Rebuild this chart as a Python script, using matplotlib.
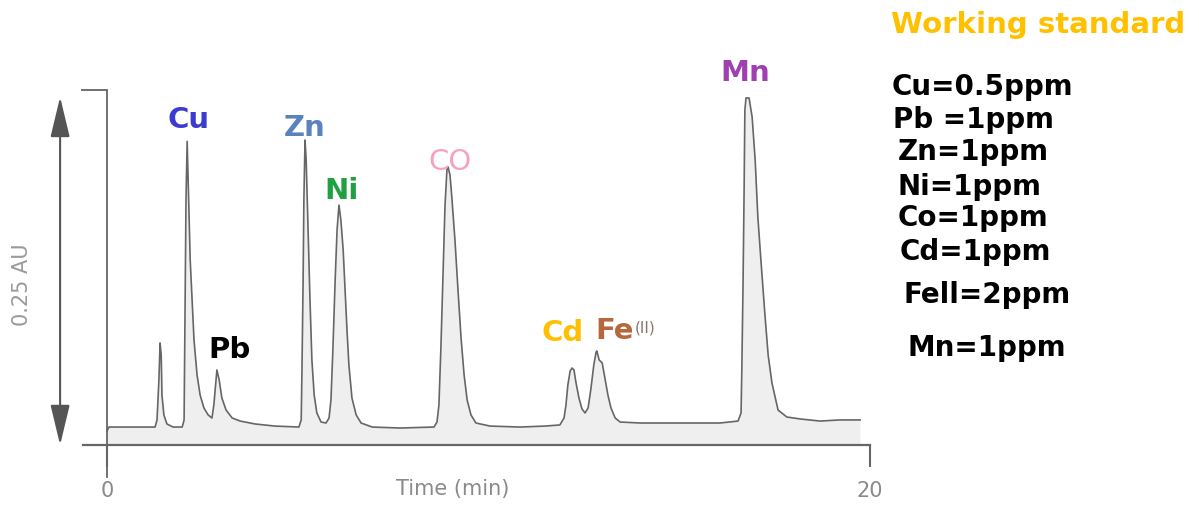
import matplotlib
matplotlib.use("Agg")
import matplotlib.pyplot as plt

# chromatogram trace (time in min, absorbance in AU)
time_min = [0.00, 0.05, 0.60, 1.26, 1.31, 1.36, 1.39, 1.42, 1.44, 1.49, 1.57, 1.73,
            1.97, 2.02, 2.04, 2.07, 2.10, 2.12, 2.15, 2.18, 2.23, 2.28, 2.36, 2.44,
            2.54, 2.65, 2.75, 2.80, 2.86, 2.88, 2.94, 3.01, 3.12, 3.28, 3.49, 3.88,
            4.40, 5.03, 5.09, 5.11, 5.14, 5.16, 5.19, 5.22, 5.27, 5.32, 5.37, 5.43,
            5.50, 5.61, 5.74, 5.82, 5.87, 5.92, 5.98, 6.03, 6.08, 6.13, 6.19, 6.24,
            6.29, 6.34, 6.42, 6.53, 6.66, 6.95, 7.68, 8.57, 8.65, 8.70, 8.75, 8.81,
            8.86, 8.91, 8.94, 8.99, 9.04, 9.12, 9.20, 9.28, 9.36, 9.44, 9.54, 9.67,
            10.04, 10.83, 11.48, 11.87, 11.98, 12.03, 12.08, 12.14, 12.19, 12.24, 12.29,
            12.37, 12.45, 12.53, 12.61, 12.68, 12.76, 12.82, 12.84, 12.90, 12.98, 13.05,
            13.13, 13.21, 13.32, 13.45, 13.97, 15.02, 16.07, 16.54, 16.62, 16.64, 16.67,
            16.70, 16.72, 16.75, 16.83, 16.91, 16.99, 17.06, 17.14, 17.25, 17.33, 17.43,
            17.59, 17.82, 18.17, 18.69, 19.21, 19.74]
absorbance = [0.0101, 0.0129, 0.0129, 0.0129, 0.0180, 0.0467, 0.0733, 0.0647, 0.0359, 0.0216, 0.0151, 0.0129,
              0.0129, 0.0180, 0.0826, 0.1760, 0.2181, 0.1976, 0.1652, 0.1329, 0.1042, 0.0754, 0.0503, 0.0359,
              0.0266, 0.0216, 0.0194, 0.0287, 0.0481, 0.0539, 0.0467, 0.0338, 0.0251, 0.0194, 0.0172, 0.0151,
              0.0136, 0.0129, 0.0180, 0.0539, 0.1185, 0.1760, 0.2191, 0.2047, 0.1545, 0.1042, 0.0611, 0.0359,
              0.0230, 0.0165, 0.0158, 0.0194, 0.0323, 0.0682, 0.1185, 0.1545, 0.1724, 0.1616, 0.1401, 0.1113,
              0.0826, 0.0575, 0.0338, 0.0216, 0.0158, 0.0129, 0.0122, 0.0129, 0.0165, 0.0287, 0.0682, 0.1257,
              0.1724, 0.1976, 0.1997, 0.1940, 0.1774, 0.1473, 0.1113, 0.0769, 0.0503, 0.0323, 0.0216, 0.0158,
              0.0136, 0.0129, 0.0136, 0.0144, 0.0194, 0.0287, 0.0431, 0.0532, 0.0553, 0.0539, 0.0452,
              0.0338, 0.0259, 0.0230, 0.0266, 0.0395, 0.0575, 0.0668, 0.0675, 0.0611, 0.0589, 0.0481,
              0.0359, 0.0266, 0.0194, 0.0165, 0.0158, 0.0158, 0.0158, 0.0172, 0.0230, 0.0539, 0.1113,
              0.1832, 0.2407, 0.2493, 0.2493, 0.2356, 0.2047, 0.1638, 0.1329, 0.0920, 0.0647, 0.0445,
              0.0251, 0.0201, 0.0187, 0.0172, 0.0180, 0.0180]

# peak labels
peak_names = ["Cu", "Pb", "Zn", "Ni", "CO", "Cd", "Fe", "Mn"]
peak_rt = [2.10, 2.88, 5.19, 6.08, 8.94, 12.19, 12.84, 16.79]
peak_height = [0.218, 0.054, 0.219, 0.172, 0.200, 0.055, 0.067, 0.249]
peak_colors = ["#3b3bd0", "#000000", "#5a82bd", "#20a040", "#f7a1bf", "#ffbe00", "#b5683c", "#a040b0"]
label_offsets = [(0.7, 15.8), (9.4, 14.4), (0, 8.6), (2.2, 10.8), (1.4, 3.6),
                 (-6.5, 25.2), (-1.4, 15.1), (-1.4, 18.0)]

standard_title = "Working standard"
standards = ["Cu=0.5ppm", "Pb =1ppm", "Zn=1ppm", "Ni=1ppm", "Co=1ppm",
             "Cd=1ppm", "Fell=2ppm", "Mn=1ppm"]
standard_x = [892, 893, 898, 898, 898, 900, 903, 907]
standard_y = [87, 120, 152, 187, 218, 252, 295, 348]

W, H = 1199, 519
fig = plt.figure(figsize=(W / 100, H / 100), dpi=100)
ax = fig.add_axes([83 / W, 1 - 445 / H, (870 - 83) / W, 355 / H])

grey = "#666666"
ax.fill_between(time_min, absorbance, 0, color="#efefef", lw=0)
ax.plot(time_min, absorbance, color=grey, lw=1.2)

ax.set_xlim(-0.63, 20)
ax.set_ylim(0, 0.255)
for s in ["top", "right"]:
    ax.spines[s].set_visible(False)
ax.spines["bottom"].set_color(grey)
ax.spines["bottom"].set_linewidth(1.6)
ax.spines["left"].set_position(("data", 0))
ax.spines["left"].set_color(grey)
ax.spines["left"].set_linewidth(1.3)
ax.spines["left"].set_bounds(-0.023, 0.255)

ax.set_xticks([0, 20])
ax.set_xticklabels(["0", "20"])
ax.tick_params(axis="x", length=16, width=1.5, color=grey, pad=10,
               labelsize=15, labelcolor="#8a8a8a")
ax.set_yticks([0.255])
ax.set_yticklabels([""])
ax.tick_params(axis="y", length=19, width=1.3, color=grey)
ax.set_xlabel("Time (min)", fontsize=15, color="#8a8a8a")
ax.xaxis.set_label_coords(0.47, -0.095)

# 0.25 AU scale arrow
ax.annotate("", xy=(-1.23, 0.25), xytext=(-1.23, 0.0), annotation_clip=False,
            arrowprops=dict(arrowstyle="<|-|>,head_length=2.5,head_width=0.6",
                            color="#555555", lw=1.5, shrinkA=0, shrinkB=0))
fig.text(22 / W, 1 - 285 / H, "0.25 AU", rotation=90, ha="center", va="center",
         fontsize=15, color="#9a9a9a")

for name, rt, h, c, off in zip(peak_names, peak_rt, peak_height, peak_colors, label_offsets):
    ha = "left" if name == "Fe" else "center"
    weight = "normal" if name == "CO" else "bold"
    ax.annotate(name, xy=(rt, h), xytext=off, textcoords="offset points",
                ha=ha, va="center", fontsize=21, fontweight=weight, color=c,
                annotation_clip=False)
ax.annotate("(II)", xy=(peak_rt[6], peak_height[6]), xytext=(27.5, 17.3),
            textcoords="offset points", ha="left", va="center", fontsize=11,
            color="#8a7468", annotation_clip=False)

fig.text(1038 / W, 1 - 25 / H, standard_title, ha="center", va="center",
         fontsize=21, fontweight="bold", color="#ffc000")
for txt, x, y in zip(standards, standard_x, standard_y):
    fig.text(x / W, 1 - y / H, txt, ha="left", va="center",
             fontsize=20, fontweight="bold", color="black")

fig.savefig("out.png", dpi=100)
